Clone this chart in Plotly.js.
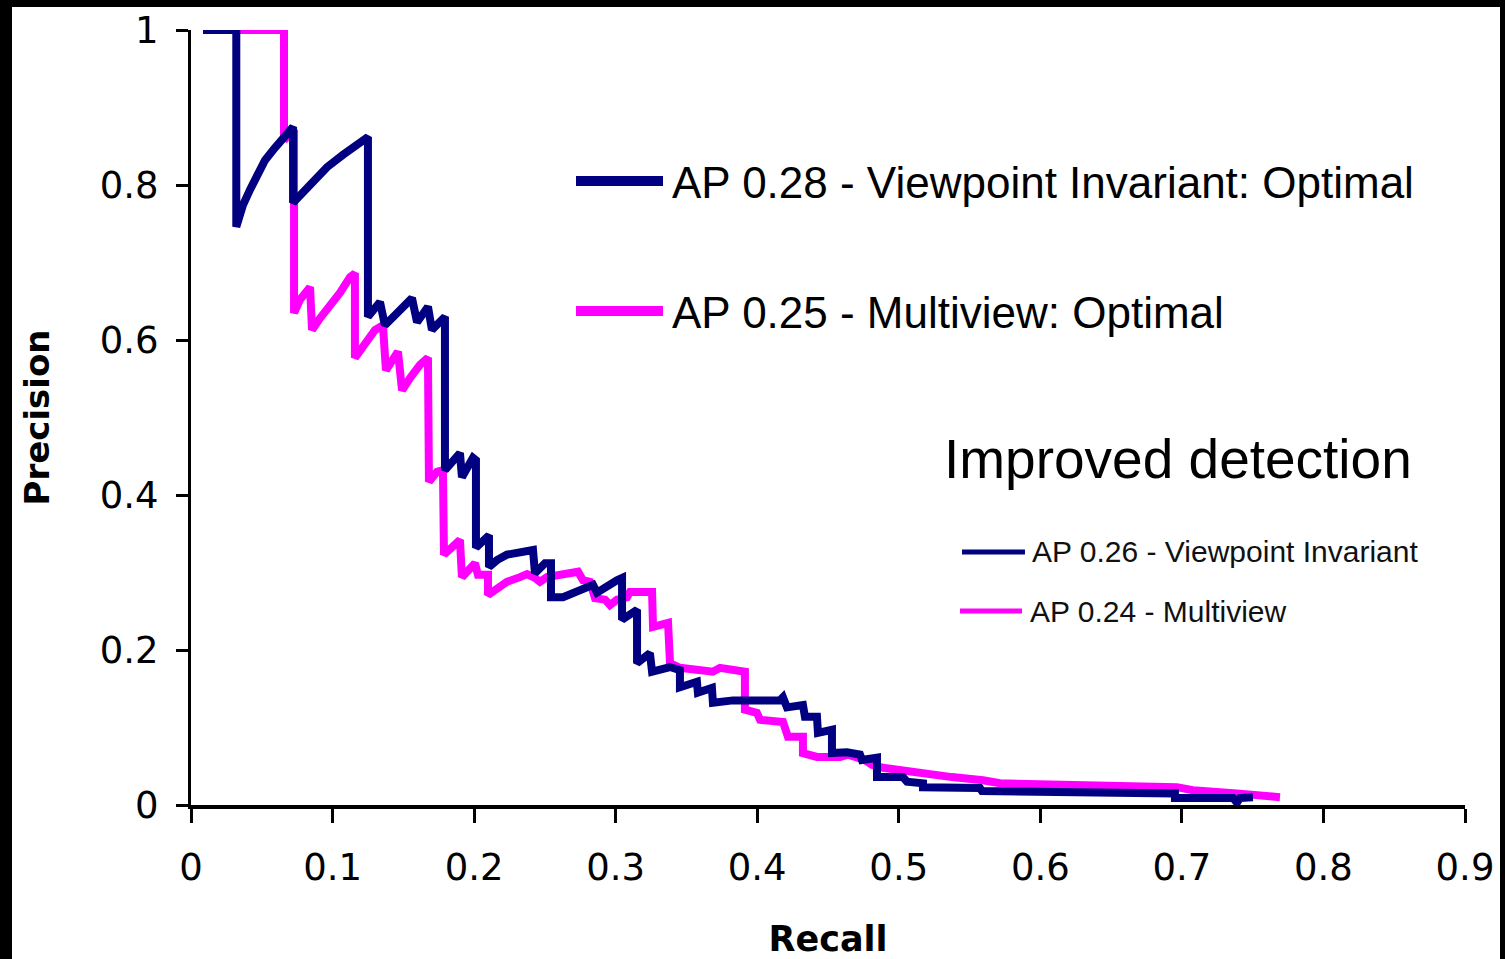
<!DOCTYPE html>
<html>
<head>
<meta charset="utf-8">
<script src="https://cdn.plot.ly/plotly-3.0.1.min.js"></script>
<style>
  html, body { margin: 0; padding: 0; background: #000; width: 1505px; height: 959px; overflow: hidden; }
  #chart { position: absolute; left: 12px; top: 7px; width: 1488px; height: 952px; background: #fff; }
</style>
</head>
<body>
<div id="chart"></div>
<script>
// ---- data ----
const seriesNames = ["AP 0.28 - Viewpoint Invariant: Optimal", "AP 0.25 - Multiview: Optimal"];
const extraLegendNames = ["AP 0.26 - Viewpoint Invariant", "AP 0.24 - Multiview"];
const noteText = "Improved detection";
const xTickVals = [0, 0.1, 0.2, 0.3, 0.4, 0.5, 0.6, 0.7, 0.8, 0.9];
const xTickText = ["0", "0.1", "0.2", "0.3", "0.4", "0.5", "0.6", "0.7", "0.8", "0.9"];
const yTickVals = [0, 0.2, 0.4, 0.6, 0.8, 1];
const yTickText = ["0", "0.2", "0.4", "0.6", "0.8", "1"];

const viewInvRecall = [0.0085,0.032,0.032,0.0367,0.0417,0.0473,0.0523,0.0593,0.0664,0.0721,0.0721,0.0770,0.0862,0.0961,0.1074,0.1173,0.1250,0.1250,0.1335,0.1370,0.1462,0.1561,0.1597,0.1674,0.1702,0.1794,0.1794,0.1900,0.1914,0.1992,0.2013,0.2013,0.2105,0.2105,0.2162,0.2232,0.2416,0.2430,0.2501,0.2543,0.2543,0.2628,0.2840,0.2868,0.3009,0.3045,0.3045,0.3151,0.3151,0.3242,0.3257,0.3384,0.3454,0.3454,0.3574,0.3581,0.3680,0.3687,0.3829,0.4161,0.4182,0.4210,0.4323,0.4337,0.4422,0.4429,0.4528,0.4528,0.4634,0.4726,0.4740,0.4846,0.4846,0.5029,0.5058,0.5171,0.5171,0.5291,0.5573,0.5588,0.6001,0.6951,0.6951,0.7361,0.7389,0.7410,0.7502];
const viewInvPrecision = [1,1,0.746,0.774,0.794,0.817,0.832,0.848,0.861,0.875,0.777,0.787,0.806,0.823,0.839,0.852,0.862,0.630,0.649,0.619,0.636,0.654,0.623,0.643,0.613,0.630,0.432,0.454,0.423,0.448,0.445,0.332,0.348,0.307,0.316,0.323,0.329,0.299,0.312,0.312,0.268,0.268,0.284,0.274,0.290,0.293,0.239,0.252,0.183,0.196,0.172,0.178,0.174,0.152,0.159,0.145,0.151,0.132,0.135,0.135,0.139,0.126,0.129,0.114,0.114,0.093,0.097,0.067,0.068,0.065,0.058,0.061,0.036,0.036,0.030,0.028,0.023,0.022,0.022,0.018,0.017,0.015,0.009,0.009,0.003,0.009,0.010];

const multiRecall = [0.0085,0.0657,0.0657,0.0728,0.0728,0.0770,0.0841,0.0855,0.0911,0.0982,0.1053,0.1123,0.1158,0.1158,0.1229,0.1300,0.1356,0.1377,0.1462,0.1491,0.1547,0.1618,0.1674,0.1681,0.1738,0.1780,0.1787,0.1865,0.1900,0.1914,0.1971,0.2006,0.2027,0.2098,0.2098,0.2162,0.2232,0.2324,0.2374,0.2430,0.2465,0.2515,0.2734,0.2769,0.2819,0.2854,0.2925,0.2960,0.3009,0.3080,0.3101,0.3257,0.3264,0.3370,0.3384,0.3454,0.3574,0.3687,0.3737,0.3913,0.3913,0.3998,0.4020,0.4182,0.4217,0.4323,0.4323,0.4422,0.4585,0.4641,0.4761,0.4811,0.4888,0.5065,0.5185,0.5376,0.5595,0.5715,0.6965,0.7078,0.7389,0.7502,0.7693];
const multiPrecision = [1,1,0.858,0.871,0.635,0.652,0.668,0.613,0.628,0.643,0.661,0.681,0.686,0.577,0.594,0.613,0.619,0.561,0.585,0.535,0.551,0.568,0.577,0.417,0.430,0.432,0.323,0.335,0.342,0.294,0.306,0.312,0.297,0.297,0.271,0.280,0.288,0.294,0.298,0.293,0.288,0.294,0.301,0.290,0.288,0.267,0.265,0.258,0.265,0.268,0.275,0.275,0.230,0.235,0.183,0.177,0.174,0.172,0.177,0.172,0.123,0.119,0.110,0.107,0.088,0.088,0.067,0.062,0.062,0.065,0.058,0.052,0.048,0.043,0.039,0.036,0.032,0.028,0.023,0.019,0.015,0.013,0.010];

const NAVY = "#000080";
const MAGENTA = "#FF00FF";

const traces = [
  { x: multiRecall, y: multiPrecision, name: seriesNames[1], mode: "lines",
    line: { color: MAGENTA, width: 8 }, showlegend: false, hoverinfo: "x+y" },
  { x: viewInvRecall, y: viewInvPrecision, name: seriesNames[0], mode: "lines",
    line: { color: NAVY, width: 8 }, showlegend: false, hoverinfo: "x+y" }
];

const bigFont = { family: "Liberation Sans, Arial, sans-serif", size: 44, color: "#000" };
const smallFont = { family: "Liberation Sans, Arial, sans-serif", size: 30, color: "#111" };

const shapes = [
  { type: "line", xref: "paper", yref: "paper", x0: 0.3022, x1: 0.3705, y0: 0.8052, y1: 0.8052, line: { color: NAVY, width: 10 } },
  { type: "line", xref: "paper", yref: "paper", x0: 0.3022, x1: 0.3705, y0: 0.6374, y1: 0.6374, line: { color: MAGENTA, width: 10 } },
  { type: "line", xref: "paper", yref: "paper", x0: 0.6052, x1: 0.6546, y0: 0.3265, y1: 0.3265, line: { color: NAVY, width: 5 } },
  { type: "line", xref: "paper", yref: "paper", x0: 0.6036, x1: 0.6523, y0: 0.2503, y1: 0.2503, line: { color: MAGENTA, width: 5 } }
];

const annotations = [
  { text: seriesNames[0], xref: "paper", yref: "paper", x: 0.3760, y: 0.8026, xanchor: "left", yanchor: "middle", showarrow: false, font: bigFont },
  { text: seriesNames[1], xref: "paper", yref: "paper", x: 0.3760, y: 0.6360, xanchor: "left", yanchor: "middle", showarrow: false, font: bigFont },
  { text: noteText, xref: "paper", yref: "paper", x: 0.5895, y: 0.4465, xanchor: "left", yanchor: "middle", showarrow: false,
    font: { family: "Liberation Sans, Arial, sans-serif", size: 55, color: "#000" } },
  { text: extraLegendNames[0], xref: "paper", yref: "paper", x: 0.6586, y: 0.3265, xanchor: "left", yanchor: "middle", showarrow: false, font: smallFont },
  { text: extraLegendNames[1], xref: "paper", yref: "paper", x: 0.6570, y: 0.2503, xanchor: "left", yanchor: "middle", showarrow: false, font: smallFont }
];

const tickFont = { family: "DejaVu Sans, sans-serif", size: 37, color: "#000" };

const layout = {
  width: 1488, height: 952,
  margin: { l: 179, r: 35, t: 23, b: 154, pad: 0 },
  paper_bgcolor: "#fff", plot_bgcolor: "#fff",
  showlegend: false,
  xaxis: {
    range: [0, 0.9], tickvals: xTickVals, ticktext: xTickText,
    showgrid: false, zeroline: false, showline: true, linecolor: "#000", linewidth: 4,
    ticks: "outside", ticklen: 14, tickwidth: 3, tickcolor: "#000",
    tickfont: tickFont, ticklabelstandoff: 13,
    title: { text: "Recall", font: { family: "DejaVu Sans, sans-serif", size: 35, weight: "bold", color: "#000" }, standoff: 41 },
    fixedrange: true
  },
  yaxis: {
    range: [0, 1], tickvals: yTickVals, ticktext: yTickText,
    showgrid: false, zeroline: false, showline: true, linecolor: "#000", linewidth: 3,
    ticks: "outside", ticklen: 12, tickwidth: 3, tickcolor: "#000",
    tickfont: tickFont, ticklabelstandoff: 10,
    title: { text: "Precision", font: { family: "DejaVu Sans, sans-serif", size: 34, weight: "bold", color: "#000" }, standoff: 40 },
    fixedrange: true
  },
  shapes: shapes,
  annotations: annotations
};

Plotly.newPlot("chart", traces, layout, { displayModeBar: false, staticPlot: true });
</script>
</body>
</html>
